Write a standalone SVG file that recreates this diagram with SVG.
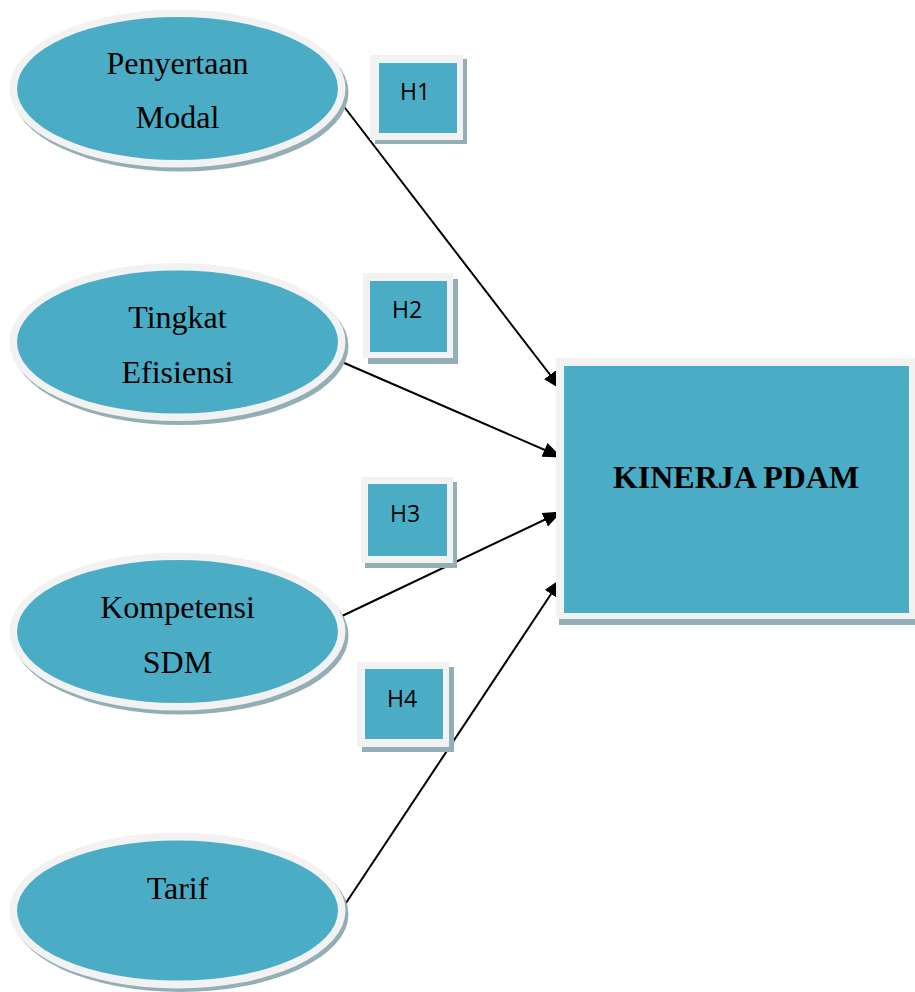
<svg xmlns="http://www.w3.org/2000/svg" width="915" height="992" viewBox="0 0 915 992">
<defs>
<style>
.sh{fill:#94aeb6}
.bd{fill:#f2f2f2}
.tl{fill:#4bacc6}
.lbl{font-family:"Liberation Serif","Times New Roman",serif;font-size:32px;fill:#000;text-anchor:middle}
.big{font-family:"Liberation Serif","Times New Roman",serif;font-size:32px;font-weight:bold;fill:#000;text-anchor:middle}
.h{font-family:"Open Sans","Noto Sans",sans-serif;font-size:23px;fill:#000;text-anchor:middle}
.cn{stroke:#000;stroke-width:2;fill:none;marker-end:url(#ah)}
</style>
<marker id="ah" markerUnits="userSpaceOnUse" markerWidth="20" markerHeight="16" refX="18" refY="7.5" orient="auto">
<path d="M0,0 L19,7.5 L0,15 z" fill="#000"/>
</marker>
</defs>
<rect width="915" height="992" fill="#fff"/>

<g id="connectors">
<line class="cn" x1="342" y1="104" x2="561" y2="389"/>
<line class="cn" x1="342" y1="362" x2="561" y2="457"/>
<line class="cn" x1="342" y1="616" x2="561" y2="512"/>
<line class="cn" x1="342" y1="909" x2="561" y2="579"/>
</g>

<g id="penyertaan-modal">
<ellipse class="sh" cx="180.5" cy="92.5" rx="168" ry="79"/>
<ellipse class="bd" cx="177.5" cy="88.5" rx="168" ry="79"/>
<ellipse class="tl" cx="177.5" cy="88.5" rx="160.5" ry="71.5"/>
<text class="lbl" x="177.5" y="74">Penyertaan</text>
<text class="lbl" x="177.5" y="128">Modal</text>
</g>

<g id="tingkat-efisiensi">
<ellipse class="sh" cx="180.5" cy="346" rx="168" ry="79"/>
<ellipse class="bd" cx="177.5" cy="342" rx="168" ry="79"/>
<ellipse class="tl" cx="177.5" cy="342" rx="160.5" ry="71.5"/>
<text class="lbl" x="177.5" y="328">Tingkat</text>
<text class="lbl" x="177.5" y="383">Efisiensi</text>
</g>

<g id="kompetensi-sdm">
<ellipse class="sh" cx="180.5" cy="635.5" rx="168" ry="79"/>
<ellipse class="bd" cx="177.5" cy="631.5" rx="168" ry="79"/>
<ellipse class="tl" cx="177.5" cy="631.5" rx="160.5" ry="71.5"/>
<text class="lbl" x="177.5" y="618">Kompetensi</text>
<text class="lbl" x="177.5" y="673">SDM</text>
</g>

<g id="tarif">
<ellipse class="sh" cx="180.5" cy="914" rx="168" ry="78"/>
<ellipse class="bd" cx="177.5" cy="910.5" rx="168" ry="78"/>
<ellipse class="tl" cx="177.5" cy="910.5" rx="160.5" ry="70"/>
<text class="lbl" x="177.5" y="899">Tarif</text>
</g>

<g id="kinerja-pdam">
<rect class="sh" x="559" y="362" width="365" height="263"/>
<rect class="bd" x="556" y="358" width="365" height="261"/>
<rect class="tl" x="564" y="366" width="345" height="247"/>
<text class="big" x="736" y="488">KINERJA PDAM</text>
</g>

<g id="h1">
<rect class="sh" x="375" y="59" width="92" height="85"/>
<rect class="bd" x="370" y="55" width="93" height="85"/>
<rect class="tl" x="379" y="63" width="78" height="70"/>
<text class="h" x="415" y="100">H1</text>
</g>

<g id="h2">
<rect class="sh" x="368" y="279" width="90" height="85"/>
<rect class="bd" x="363" y="273" width="90" height="85"/>
<rect class="tl" x="370" y="281" width="77" height="71"/>
<text class="h" x="407" y="318">H2</text>
</g>

<g id="h3">
<rect class="sh" x="365" y="482" width="92" height="86"/>
<rect class="bd" x="361" y="477" width="92" height="86"/>
<rect class="tl" x="368" y="484" width="79" height="72"/>
<text class="h" x="405" y="522">H3</text>
</g>

<g id="h4">
<rect class="sh" x="362" y="667" width="92" height="85"/>
<rect class="bd" x="357" y="662" width="92" height="85"/>
<rect class="tl" x="365" y="669" width="78" height="70"/>
<text class="h" x="402" y="707">H4</text>
</g>
</svg>
